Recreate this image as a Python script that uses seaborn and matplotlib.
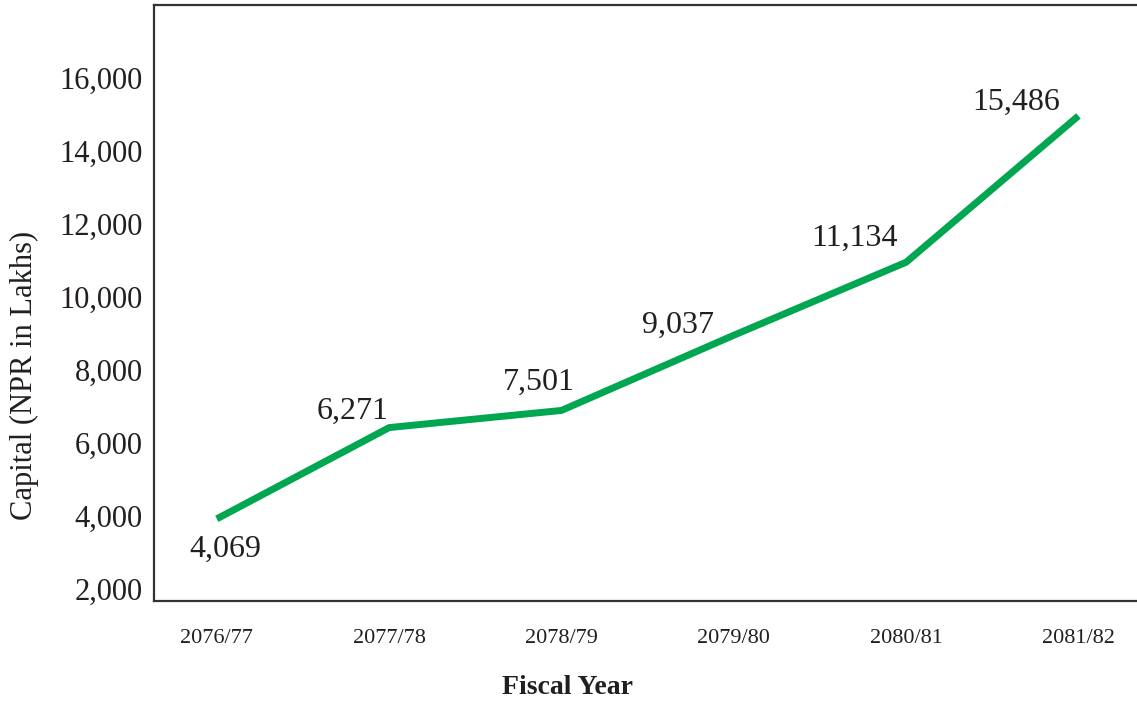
import matplotlib
matplotlib.use("Agg")
import matplotlib.pyplot as plt
import seaborn as sns
import pandas as pd
from matplotlib.ticker import FuncFormatter

# data
fiscal_years = ["2076/77", "2077/78", "2078/79", "2079/80", "2080/81", "2081/82"]
plotted_capital = [3920, 6420, 6890, 8950, 10950, 14960]
label_values = [4069, 6271, 7501, 9037, 11134, 15486]
y_ticks = [2000, 4000, 6000, 8000, 10000, 12000, 14000, 16000]

df = pd.DataFrame({"year": fiscal_years, "capital": plotted_capital})

sns.set_style("white")
plt.rcParams["font.family"] = ["Liberation Serif", "DejaVu Serif"]

fig = plt.figure(figsize=(11.37, 7.07), dpi=100)
ax = fig.add_axes([0.1354, 0.15, 1 - 0.1354, 0.843])

sns.lineplot(data=df, x="year", y="capital", color="#00A650",
             linewidth=5, ax=ax, solid_capstyle="butt")

# label offsets (points) relative to each plotted point
offsets = [(6, -22), (-26, 12), (-16, 20), (-40, 7), (-37, 17), (-45, 10)]
for i, (v, off) in enumerate(zip(label_values, offsets)):
    ax.annotate(f"{v:,}", (i, plotted_capital[i]), xytext=off,
                textcoords="offset points", ha="center", va="center",
                fontsize=23, color="#231f20")

ax.set_xlim(-0.365, 5.34)
ax.set_ylim(1670, 18000)
ax.set_yticks(y_ticks)
ax.yaxis.set_major_formatter(FuncFormatter(lambda v, p: f"{int(v):,}"))
ax.tick_params(axis="y", labelsize=22, length=0, pad=8, colors="#231f20")
ax.tick_params(axis="x", labelsize=16, length=0, pad=20, colors="#231f20")

for s in ["left", "top", "bottom"]:
    ax.spines[s].set_color("#333333")
    ax.spines[s].set_linewidth(1.6)
ax.spines["right"].set_visible(False)

ax.set_xlabel("Fiscal Year", fontsize=20, fontweight="bold", color="#231f20")
ax.xaxis.set_label_coords(0.421, -0.124)
ax.set_ylabel("Capital (NPR in Lakhs)", fontsize=22, color="#231f20")
ax.yaxis.set_label_coords(-0.117, 0.379)

fig.savefig("out.png", dpi=100)
